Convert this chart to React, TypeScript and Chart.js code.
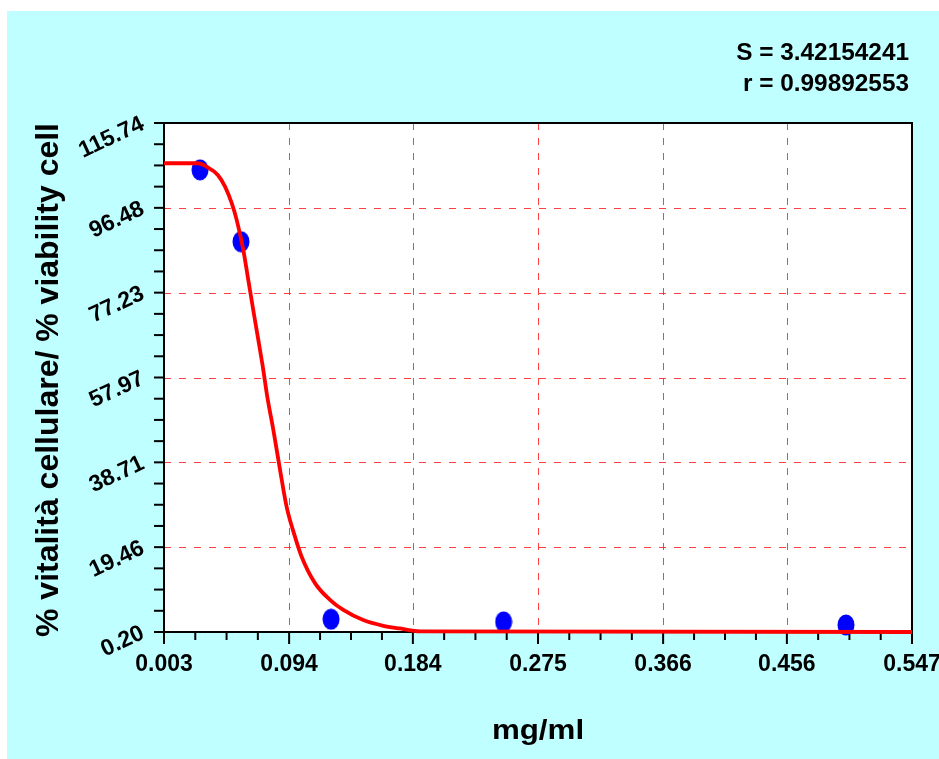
import React, { useEffect, useRef } from "react";
import { Chart, registerables } from "chart.js";

Chart.register(...registerables);

// ---- data ----
const xTicks = [0.003, 0.094, 0.184, 0.275, 0.366, 0.456, 0.547];
const yTicks = [0.2, 19.46, 38.71, 57.97, 77.23, 96.48, 115.74];

const doseX = [0.0292, 0.059, 0.1245, 0.25, 0.499];
const viabilityY = [105.1, 88.8, 3.1, 2.5, 1.8];

const fitX = [0.003, 0.0277, 0.0341, 0.0423, 0.0474, 0.0522, 0.0559, 0.0607, 0.0643, 0.0679, 0.0716, 0.0752, 0.0779, 0.0825, 0.0874, 0.0922, 0.0983, 0.1031, 0.1128, 0.1237, 0.1334, 0.1479, 0.1625, 0.1746, 0.1892, 0.547];
const fitY = [106.6, 106.6, 105.8, 103.9, 101.3, 97.6, 93.7, 86.9, 80.1, 73.3, 66.5, 59.7, 54.0, 46.1, 37.0, 28.6, 21.8, 17.3, 11.3, 7.5, 5.2, 2.9, 1.6, 1.0, 0.35, 0.2];

const statLines = ["S = 3.42154241", "r = 0.99892553"];
const xTitle = "mg/ml";
const yTitle = "% vitalità cellulare/ % viability cell";

const FAMILY = '"Liberation Sans", Arial, Helvetica, sans-serif';

function drawScaledText(
  ctx: CanvasRenderingContext2D,
  text: string,
  x: number,
  y: number,
  font: string,
  align: CanvasTextAlign,
  sx: number,
  rot = 0
) {
  ctx.save();
  ctx.translate(x, y);
  if (rot) ctx.rotate(rot);
  ctx.scale(sx, 1);
  ctx.font = font;
  ctx.textAlign = align;
  ctx.textBaseline = "alphabetic";
  ctx.fillStyle = "#000";
  ctx.fillText(text, 0, 0);
  ctx.restore();
}

const framePlugin = {
  id: "framePlugin",
  beforeDraw(chart: any) {
    const { ctx, width, height, chartArea: a } = chart;
    ctx.save();
    ctx.fillStyle = "#ffffff";
    ctx.fillRect(0, 0, width, height);
    ctx.fillStyle = "#C0FFFF";
    ctx.fillRect(7, 11, width - 7, height - 11);
    ctx.fillStyle = "#ffffff";
    ctx.fillRect(a.left, a.top, a.right - a.left, a.bottom - a.top);
    ctx.restore();
  },
  beforeDatasetsDraw(chart: any) {
    const { ctx, chartArea: a, scales } = chart;
    const xs = scales.x;
    const ys = scales.y;
    ctx.save();
    // dashed grid
    ctx.strokeStyle = "rgba(255,30,30,0.85)";
    ctx.lineWidth = 1;
    ctx.setLineDash([7, 8]);
    xTicks.slice(1, -1).forEach((v) => {
      const px = Math.round(xs.getPixelForValue(v)) + 0.5;
      ctx.beginPath();
      ctx.moveTo(px, a.top);
      ctx.lineTo(px, a.bottom);
      ctx.stroke();
    });
    yTicks.slice(1, -1).forEach((v) => {
      const py = Math.round(ys.getPixelForValue(v)) + 0.5;
      ctx.beginPath();
      ctx.moveTo(a.left, py);
      ctx.lineTo(a.right, py);
      ctx.stroke();
    });
    ctx.setLineDash([]);
    // ticks
    ctx.strokeStyle = "#000";
    ctx.lineWidth = 2;
    for (let i = 0; i < xTicks.length; i++) {
      const subs = i < xTicks.length - 1 ? 4 : 1;
      for (let k = 0; k < subs; k++) {
        const v = i < xTicks.length - 1 ? xTicks[i] + ((xTicks[i + 1] - xTicks[i]) * k) / 4 : xTicks[i];
        const len = k === 0 ? 12 : 8;
        const px = xs.getPixelForValue(v);
        ctx.beginPath();
        ctx.moveTo(px, a.bottom);
        ctx.lineTo(px, a.bottom + len);
        ctx.stroke();
      }
    }
    for (let i = 0; i < yTicks.length; i++) {
      const subs = i < yTicks.length - 1 ? 4 : 1;
      for (let k = 0; k < subs; k++) {
        const v = i < yTicks.length - 1 ? yTicks[i] + ((yTicks[i + 1] - yTicks[i]) * k) / 4 : yTicks[i];
        const len = 10;
        const py = ys.getPixelForValue(v);
        ctx.beginPath();
        ctx.moveTo(a.left - len, py);
        ctx.lineTo(a.left, py);
        ctx.stroke();
      }
    }
    // frame
    ctx.lineWidth = 2;
    ctx.strokeRect(a.left, a.top, a.right - a.left, a.bottom - a.top);
    ctx.restore();
  },
  afterDraw(chart: any) {
    const { ctx } = chart;
    drawScaledText(ctx, statLines[0], 909, 60, `bold 23px ${FAMILY}`, "right", 1.06);
    drawScaledText(ctx, statLines[1], 909, 90.5, `bold 23px ${FAMILY}`, "right", 1.06);
    drawScaledText(ctx, xTitle, 538, 739, `bold 27px ${FAMILY}`, "center", 1.16);
    drawScaledText(ctx, yTitle, 58, 380, `bold 32px ${FAMILY}`, "center", 1, -Math.PI / 2);
  },
};

function makeDot(): HTMLCanvasElement {
  const c = document.createElement("canvas");
  c.width = 18;
  c.height = 22;
  const g = c.getContext("2d")!;
  g.fillStyle = "#0000FF";
  g.beginPath();
  g.ellipse(9, 11, 8.5, 10.5, 0, 0, Math.PI * 2);
  g.fill();
  return c;
}

export default function App() {
  const ref = useRef<HTMLCanvasElement | null>(null);

  useEffect(() => {
    if (!ref.current) return;
    const dot = makeDot();
    const chart = new Chart(ref.current, {
      type: "scatter",
      data: {
        datasets: [
          {
            label: "fit",
            data: fitX.map((x, i) => ({ x, y: fitY[i] })),
            showLine: true,
            borderColor: "#FF0000",
            borderWidth: 3.8,
            pointRadius: 0,
            cubicInterpolationMode: "monotone",
            clip: false,
            order: 1,
          } as any,
          {
            label: "data",
            data: doseX.map((x, i) => ({ x, y: viabilityY[i] })),
            pointStyle: dot as any,
            pointRadius: 10,
            backgroundColor: "#0000FF",
            borderWidth: 0,
            clip: false,
            order: 2,
          } as any,
        ],
      },
      options: {
        responsive: false,
        animation: false,
        devicePixelRatio: 1,
        layout: { padding: { top: 123, right: 27, left: 0, bottom: 0 } },
        plugins: {
          legend: { display: false },
          tooltip: { enabled: false },
          title: { display: false },
        },
        scales: {
          x: {
            type: "linear",
            min: xTicks[0],
            max: xTicks[xTicks.length - 1],
            grid: { display: false, drawTicks: false },
            border: { display: false },
            afterBuildTicks: (s: any) => {
              s.ticks = xTicks.map((v) => ({ value: v }));
            },
            afterFit: (s: any) => {
              s.height = 127;
              s.paddingLeft = 0;
              s.paddingRight = 0;
            },
            ticks: {
              padding: 19,
              maxRotation: 0,
              minRotation: 0,
              color: "#000",
              font: { family: FAMILY, size: 23, weight: "bold" },
              callback: (v: any) => Number(v).toFixed(3),
            },
          },
          y: {
            type: "linear",
            min: yTicks[0],
            max: yTicks[yTicks.length - 1],
            grid: { display: false, drawTicks: false },
            border: { display: false },
            afterBuildTicks: (s: any) => {
              s.ticks = yTicks.map((v) => ({ value: v }));
            },
            afterFit: (s: any) => {
              s.width = 164;
              s.paddingTop = 0;
              s.paddingBottom = 0;
            },
            ticks: {
              padding: 21,
              minRotation: 25,
              maxRotation: 25,
              color: "#000",
              font: { family: FAMILY, size: 23, weight: "bold" },
              callback: (v: any) => Number(v).toFixed(2),
            },
          },
        },
      } as any,
      plugins: [framePlugin],
    });
    return () => chart.destroy();
  }, []);

  return (
    <div style={{ position: "fixed", left: 0, top: 0, width: 939, height: 759 }}>
      <canvas ref={ref} width={939} height={759} style={{ width: 939, height: 759, display: "block" }} />
    </div>
  );
}
